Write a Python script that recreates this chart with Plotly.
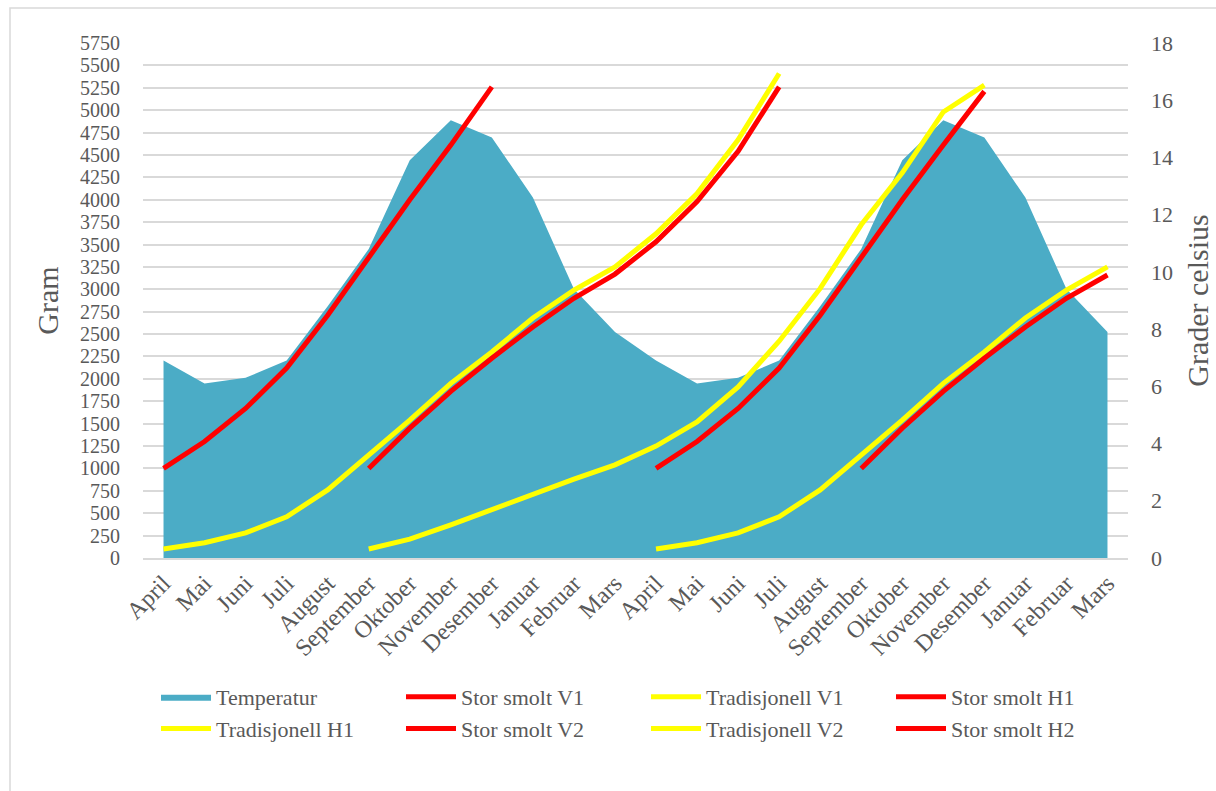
import plotly.graph_objects as go

# Month labels along the x axis (two consecutive years, April to March)
months = ["April", "Mai", "Juni", "Juli", "August", "September", "Oktober",
          "November", "Desember", "Januar", "Februar", "Mars"]
tick_labels = months + months
x_pos = list(range(len(tick_labels)))

# Monthly sea temperature (degrees Celsius), right axis
temperatur = [6.9, 6.1, 6.3, 6.9, 8.8, 10.8, 13.9, 15.3, 14.7, 12.6, 9.4, 7.9,
              6.9, 6.1, 6.3, 6.9, 8.8, 10.8, 13.9, 15.3, 14.7, 12.6, 9.4, 7.9]

# Fish weight (gram) per month for each production strategy, left axis
stor_smolt_v1 = [1000, 1300, 1670, 2120, 2710, 3360, 4000, 4610, 5260] + [None] * 15
tradisjonell_v1 = [100, 170, 280, 460, 760, 1150, 1540, 1950, 2300, 2680, 2990, 3250,
                   3620, 4070, 4670, 5410] + [None] * 8
stor_smolt_h1 = [None] * 5 + [1000, 1450, 1860, 2230, 2580, 2900, 3170, 3530, 3980,
                              4540, 5260] + [None] * 8
tradisjonell_h1 = [None] * 5 + [100, 210, 370, 540, 720, 880, 1040, 1250, 1520, 1910,
                                2420, 3010, 3720, 4300, 4980, 5280] + [None] * 3
stor_smolt_v2 = [None] * 12 + [1000, 1300, 1670, 2120, 2710, 3360, 4000, 4610, 5210] + [None] * 3
tradisjonell_v2 = [None] * 12 + [100, 170, 280, 460, 760, 1150, 1540, 1950, 2300, 2680,
                                 2990, 3250]
stor_smolt_h2 = [None] * 17 + [1000, 1450, 1860, 2230, 2580, 2900, 3160]

RED = "#FF0000"
YELLOW = "#FFFF00"
AREA = "#4BACC6"
TEXT = "#595959"
GRID = "#D9D9D9"
FONT = "Liberation Serif"

lines = [
    ("Stor smolt V1", stor_smolt_v1, RED),
    ("Tradisjonell V1", tradisjonell_v1, YELLOW),
    ("Stor smolt H1", stor_smolt_h1, RED),
    ("Tradisjonell H1", tradisjonell_h1, YELLOW),
    ("Stor smolt V2", stor_smolt_v2, RED),
    ("Tradisjonell V2", tradisjonell_v2, YELLOW),
    ("Stor smolt H2", stor_smolt_h2, RED),
]

fig = go.Figure()

# Temperature area sits on the base axis so the weight lines draw over it
fig.add_trace(go.Scatter(
    x=x_pos, y=temperatur, name="Temperatur", mode="lines",
    fill="tozeroy", fillcolor=AREA, line=dict(color=AREA, width=0),
    yaxis="y",
))

for name, values, color in lines:
    fig.add_trace(go.Scatter(
        x=x_pos, y=values, name=name, mode="lines",
        line=dict(color=color, width=5),
        connectgaps=False, yaxis="y2",
    ))

W, H = 1216, 791
L, R, T, B = 143, 88, 43, 233
pw, ph = W - L - R, H - T - B


def px_x(p):
    return (p - L) / pw


def px_y(p):
    return (H - B - p) / ph


fig.update_layout(
    width=W, height=H,
    margin=dict(l=L, r=R, t=T, b=B, autoexpand=False),
    paper_bgcolor="white", plot_bgcolor="white",
    font=dict(family=FONT, color=TEXT, size=22),
    showlegend=True,
    legend=dict(
        orientation="h", x=px_x(156), y=px_y(676), xanchor="left", yanchor="top",
        font=dict(family=FONT, size=22, color=TEXT),
        entrywidth=180, entrywidthmode="pixels",
        itemwidth=50, bgcolor="rgba(0,0,0,0)",
    ),
    xaxis=dict(
        range=[-0.5, 23.5], tickmode="array", tickvals=x_pos, ticktext=tick_labels,
        tickangle=-45, showgrid=False, zeroline=False,
        showline=True, linecolor=GRID, linewidth=1.5, ticks="",
        tickfont=dict(family=FONT, size=24, color=TEXT),
    ),
    yaxis=dict(
        side="right", range=[0, 18], dtick=2, showgrid=False, zeroline=False,
        ticks="", ticklabelstandoff=22,
        tickfont=dict(family=FONT, size=22, color=TEXT),
        title=dict(text="Grader celsius", font=dict(family=FONT, size=30, color=TEXT),
                   standoff=14),
    ),
    yaxis2=dict(
        overlaying="y", side="left", range=[0, 5750], dtick=250,
        showgrid=True, gridcolor=GRID, gridwidth=1.5, zeroline=False,
        ticks="", ticklabelstandoff=22,
        tickfont=dict(family=FONT, size=20, color=TEXT),
        title=dict(text="Gram", font=dict(family=FONT, size=30, color=TEXT),
                   standoff=12),
    ),
    shapes=[dict(
        type="rect", xref="paper", yref="paper",
        x0=px_x(10), x1=px_x(1230), y0=px_y(820), y1=px_y(8),
        line=dict(color=GRID, width=1.5), fillcolor="rgba(0,0,0,0)", layer="below",
    )],
)

fig.write_html("out.html")
